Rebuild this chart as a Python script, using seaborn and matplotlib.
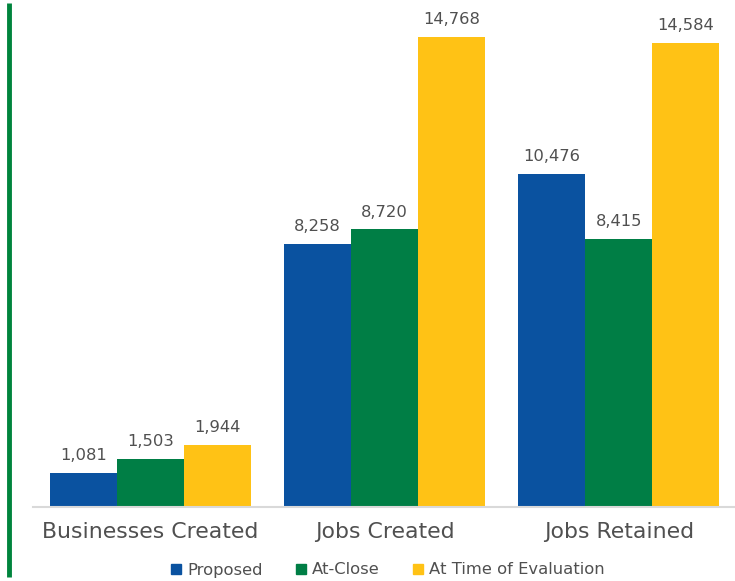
import matplotlib
matplotlib.use("Agg")
import matplotlib.pyplot as plt
from matplotlib.lines import Line2D
import seaborn as sns
import pandas as pd

categories = ["Businesses Created", "Jobs Created", "Jobs Retained"]
series = ["Proposed", "At-Close", "At Time of Evaluation"]
proposed = [1081, 8258, 10476]
at_close = [1503, 8720, 8415]
at_eval = [1944, 14768, 14584]
colors = ["#0A52A0", "#007E45", "#FFC215"]

rows = []
for s, vals in zip(series, [proposed, at_close, at_eval]):
    for c, v in zip(categories, vals):
        rows.append({"Category": c, "Series": s, "Value": v})
df = pd.DataFrame(rows)

sns.set_theme(style="white")
plt.rcParams["font.family"] = ["DejaVu Sans"]
txt = "#505050"

fig = plt.figure(figsize=(7.35, 5.81), dpi=100)
W, H = 735, 581
ax = fig.add_axes([33 / W, (H - 507) / H, 703 / W, 507 / H])
sns.barplot(data=df, x="Category", y="Value", hue="Series", order=categories,
            hue_order=series, palette=colors, width=0.857, saturation=1,
            errorbar=None, ax=ax, legend=True, linewidth=0, edgecolor="none")
ax.set_xlim(-0.5, 2.5)
ax.set_ylim(0, 15929)
for cont in ax.containers:
    ax.bar_label(cont, labels=[f"{v:,.0f}" for v in cont.datavalues],
                 padding=7, fontsize=11.8, color=txt)
ax.set_xlabel("")
ax.set_ylabel("")
ax.set_yticks([])
ax.tick_params(axis="x", length=0, pad=11, labelsize=15.8, labelcolor=txt)
for sp in ["top", "right", "left"]:
    ax.spines[sp].set_visible(False)
ax.spines["bottom"].set_color("#D9D9D9")
ax.spines["bottom"].set_linewidth(1.5)
if ax.get_legend():
    ax.get_legend().remove()

handles = [plt.Rectangle((0, 0), 1, 1, color=c) for c in colors]
fig.legend(handles, series, loc="center", bbox_to_anchor=(388 / W, 1 - 570 / H),
           ncol=3, frameon=False, fontsize=11.8, handlelength=0.6, handleheight=0.6,
           handletextpad=0.4, columnspacing=2.0, labelcolor=txt)

fig.add_artist(Line2D([9 / W, 9 / W], [1 - 3 / H, 1 - 577 / H], color="#00843D",
                      linewidth=3.5, transform=fig.transFigure, solid_capstyle="butt"))

fig.savefig("out.png", dpi=100)
